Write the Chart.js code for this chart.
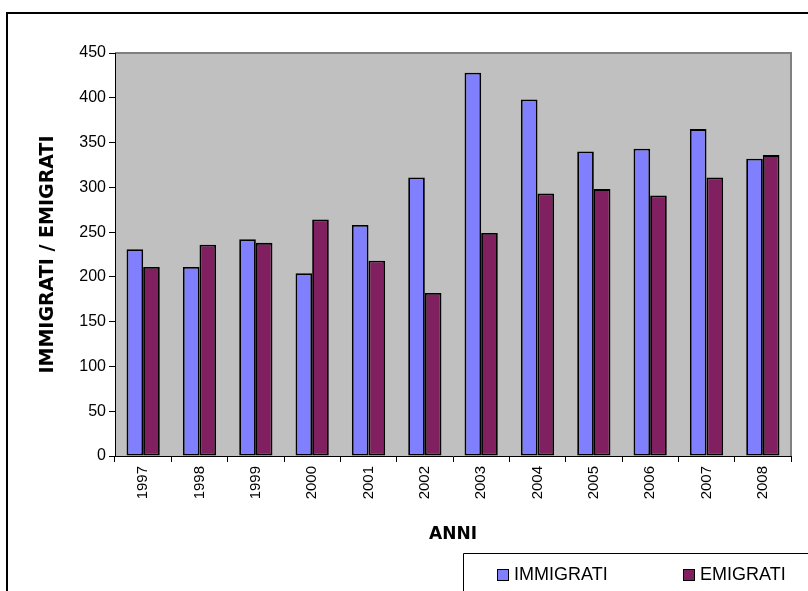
<!DOCTYPE html>
<html>
<head>
<meta charset="utf-8">
<script src="https://cdn.jsdelivr.net/npm/chart.js@4.4.1/dist/chart.umd.min.js"></script>
<style>
  html, body { margin: 0; padding: 0; background: #ffffff; }
  canvas { display: block; }
</style>
</head>
<body>
<canvas id="c" width="808" height="591"></canvas>
<script>
// Anni di rilevazione
const anni = ['1997', '1998', '1999', '2000', '2001', '2002', '2003', '2004', '2005', '2006', '2007', '2008'];
// Movimento migratorio annuo
const immigrati = [231, 211, 242, 204, 258, 311, 428, 398, 340, 343, 365, 332];
const emigrati  = [211, 236, 238, 264, 218, 182, 249, 293, 298, 291, 311, 336];
// Scala verticale
const yMin = 0, yMax = 450, yStep = 50;

const titoloY = 'IMMIGRATI / EMIGRATI';
const titoloX = 'ANNI';

const FONT = '"Liberation Sans", Arial, sans-serif';
const FONT_BOLD = '"DejaVu Sans", "Liberation Sans", Arial, sans-serif';

// Sfondo grigio dell'area del grafico, cornice esterna
const sfondo = {
  id: 'sfondo',
  beforeDraw(chart) {
    const { ctx, chartArea: a } = chart;
    ctx.save();
    ctx.fillStyle = '#ffffff';
    ctx.fillRect(0, 0, chart.width, chart.height);
    // cornice esterna
    ctx.strokeStyle = '#000000';
    ctx.lineWidth = 2;
    ctx.beginPath();
    ctx.moveTo(7, chart.height + 5);
    ctx.lineTo(7, 13);
    ctx.lineTo(chart.width + 5, 13);
    ctx.stroke();
    // area del grafico
    ctx.fillStyle = '#c0c0c0';
    ctx.fillRect(a.left, a.top, a.right - a.left, a.bottom - a.top);
    ctx.strokeStyle = '#808080';
    ctx.lineWidth = 2;
    ctx.beginPath();
    ctx.moveTo(a.left, a.top);
    ctx.lineTo(a.right, a.top);
    ctx.lineTo(a.right, a.bottom);
    ctx.stroke();
    ctx.restore();
  }
};

// Titoli degli assi e legenda
const testi = {
  id: 'testi',
  afterDraw(chart) {
    const { ctx, chartArea: a } = chart;
    ctx.save();
    ctx.fillStyle = '#000000';
    ctx.textAlign = 'center';
    ctx.textBaseline = 'middle';

    // titolo asse verticale
    ctx.font = 'bold 19px ' + FONT_BOLD;
    ctx.save();
    ctx.translate(48, (a.top + a.bottom) / 2);
    ctx.rotate(-Math.PI / 2);
    ctx.fillText(titoloY, 0, 0);
    ctx.restore();

    // titolo asse orizzontale
    ctx.font = 'bold 17px ' + FONT_BOLD;
    ctx.fillText(titoloX, (a.left + a.right) / 2, 535);

    // legenda
    ctx.strokeStyle = '#000000';
    ctx.lineWidth = 1;
    ctx.beginPath();
    ctx.moveTo(463.5, chart.height + 5);
    ctx.lineTo(463.5, 553.5);
    ctx.lineTo(chart.width + 5, 553.5);
    ctx.stroke();

    const posizioni = [497, 683];
    ctx.font = '18px ' + FONT;
    ctx.textAlign = 'left';
    chart.data.datasets.forEach((ds, i) => {
      const x = posizioni[i];
      ctx.fillStyle = ds.backgroundColor;
      ctx.fillRect(x, 569, 11, 11);
      ctx.strokeStyle = '#000000';
      ctx.lineWidth = 1;
      ctx.strokeRect(x + 0.5, 569.5, 11, 11);
      ctx.fillStyle = '#000000';
      ctx.fillText(ds.label, x + 17, 575);
    });
    ctx.restore();
  }
};

new Chart(document.getElementById('c'), {
  type: 'bar',
  data: {
    labels: anni,
    datasets: [
      { label: 'IMMIGRATI', data: immigrati, backgroundColor: '#8080ff', borderColor: '#000000', borderWidth: 1.8, borderSkipped: false },
      { label: 'EMIGRATI', data: emigrati, backgroundColor: '#802060', borderColor: '#000000', borderWidth: 1.8, borderSkipped: false }
    ]
  },
  options: {
    responsive: false,
    animation: false,
    devicePixelRatio: 1,
    layout: { padding: { left: 0, top: 53, right: 17, bottom: 0 } },
    datasets: { bar: { categoryPercentage: 0.59, barPercentage: 1.0 } },
    plugins: {
      legend: { display: false },
      tooltip: { enabled: false },
      title: { display: false }
    },
    scales: {
      x: {
        grid: { display: true, drawOnChartArea: false, drawTicks: true, tickLength: 6, color: '#000000', offset: true },
        border: { display: true, color: '#000000', width: 1 },
        ticks: { color: '#000000', font: { family: FONT, size: 15 }, minRotation: 90, maxRotation: 90, padding: 4, autoSkip: false },
        afterFit(scale) { scale.height = 135; }
      },
      y: {
        min: yMin,
        max: yMax,
        grid: { display: true, drawOnChartArea: false, drawTicks: true, tickLength: 6, color: '#000000' },
        border: { display: true, color: '#000000', width: 1 },
        ticks: { stepSize: yStep, color: '#000000', font: { family: FONT, size: 16 }, padding: 3 },
        afterFit(scale) { scale.width = 115; }
      }
    }
  },
  plugins: [sfondo, testi]
});
</script>
</body>
</html>
